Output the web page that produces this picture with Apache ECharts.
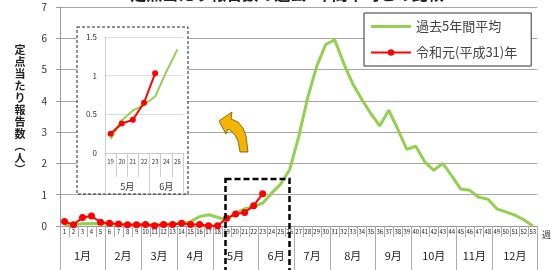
<!DOCTYPE html>
<html>
<head>
<meta charset="utf-8">
<script src="https://cdn.jsdelivr.net/npm/echarts@6/dist/echarts.min.js"></script>
<style>
  html, body { margin: 0; padding: 0; background: #fff; }
  #chart { width: 554px; height: 270px; }
</style>
</head>
<body>
<div id="chart"></div>
<script>
// 週ラベル
const weeks = ['1','2','3','4','5','6','7','8','9','10','11','12','13','14','15','16','17','18','19','20',
  '21','22','23','24','25','26','27','28','29','30','31','32','33','34','35','36','37','38','39','40',
  '41','42','43','44','45','46','47','48','49','50','51','52','53'];
// 月ラベルと各月の週数
const months = ['1月','2月','3月','4月','5月','6月','7月','8月','9月','10月','11月','12月'];
const monthWeeks = [5, 4, 4, 4, 5, 4, 4, 5, 4, 5, 4, 5];
// 過去5年間平均
const avg5 = [0.05, 0.05, 0.07, 0.08, 0.07, 0.06, 0.05, 0.05, 0.05, 0.05, 0.05, 0.06, 0.07, 0.08,
  0.14, 0.30, 0.36, 0.28, 0.18, 0.42, 0.55, 0.62, 0.73, 1.05, 1.34, 1.80, 2.85, 4.10, 5.10, 5.80,
  5.95, 5.20, 4.55, 4.05, 3.60, 3.20, 3.70, 3.10, 2.45, 2.55, 2.05, 1.78, 2.00, 1.60, 1.18, 1.14,
  0.92, 0.86, 0.55, 0.45, 0.35, 0.20, 0.00];
// 令和元(平成31)年
const r1 = [0.14, 0.04, 0.27, 0.32, 0.12, 0.09, 0.06, 0.04, 0.04, 0.05, 0.01, 0.05, 0.05, 0.09,
  0.05, 0.05, 0.01, 0.01, 0.25, 0.38, 0.43, 0.65, 1.03];
// 拡大図（19〜25週）
const insetWeeks = ['19','20','21','22','23','24','25'];
const insetMonths = ['5月','6月'];
const insetMonthWeeks = [4, 3];
const insetStart = 18;
const yTicks = [0, 1, 2, 3, 4, 5, 6, 7];

const FONT = '"Noto Sans CJK JP", "Noto Sans", sans-serif';
const GREEN = '#92d050';
const RED = '#ff0000';

// 月の行: 半週単位の点 (boundaryGap false)
function monthRow(names, counts) {
  let total = counts.reduce((a, b) => a + b, 0);
  let data = new Array(total * 2 + 1).fill('');
  let bounds = {};
  let s = 0;
  names.forEach((n, i) => {
    bounds[2 * s] = true;
    data[2 * s + counts[i]] = n;
    s += counts[i];
  });
  bounds[2 * s] = true;
  return { data, bounds };
}
const mainRow = monthRow(months, monthWeeks);
const insetRow = monthRow(insetMonths, insetMonthWeeks);

let myChart = echarts.init(document.getElementById('chart'));
let option = {
  animation: false,
  textStyle: { fontFamily: FONT },
  grid: [
    { left: 60, right: 11, top: 7, bottom: 44 },
    { left: 105, top: 37, width: 78, height: 116 },
  ],
  legend: {
    data: [
      { name: '過去5年間平均', icon: 'path://M0,0 L40,0 L40,3 L0,3 Z' },
      { name: '令和元(平成31)年' },
    ],
    orient: 'vertical',
    left: 364,
    top: 13,
    padding: [7, 14, 7, 6],
    itemGap: 13,
    itemWidth: 40,
    itemHeight: 8,
    backgroundColor: '#fff',
    borderColor: '#333',
    borderWidth: 1,
    textStyle: { fontSize: 13, color: '#444', fontFamily: FONT },
  },
  xAxis: [
    {
      type: 'category',
      gridIndex: 0,
      data: weeks,
      position: 'bottom',
      name: '週',
      nameLocation: 'end',
      nameGap: 3,
      nameTextStyle: { fontSize: 9, color: '#333', verticalAlign: 'top', padding: [4, 0, 0, 0] },
      axisLine: { lineStyle: { color: '#999' } },
      axisTick: { show: true, interval: 0, length: 11, lineStyle: { color: '#aaa' } },
      axisLabel: { interval: 0, fontSize: 6, color: '#222', margin: 3 },
      splitLine: { show: false },
    },
    {
      type: 'category',
      gridIndex: 0,
      data: mainRow.data,
      position: 'bottom',
      boundaryGap: false,
      axisLine: { show: false },
      axisTick: {
        show: true,
        length: 44,
        interval: (i) => !!mainRow.bounds[i],
        lineStyle: { color: '#aaa' },
      },
      axisLabel: { interval: 0, fontSize: 11, color: '#222', margin: 24 },
      splitLine: { show: false },
    },
    {
      type: 'category',
      gridIndex: 1,
      data: insetWeeks,
      z: 3,
      axisLine: { lineStyle: { color: '#ccc' } },
      axisTick: { show: true, interval: 0, length: 24, lineStyle: { color: '#ccc' } },
      axisLabel: { interval: 0, fontSize: 6, color: '#333', margin: 6 },
      splitLine: { show: false },
    },
    {
      type: 'category',
      gridIndex: 1,
      data: insetRow.data,
      position: 'bottom',
      boundaryGap: false,
      z: 3,
      axisLine: { show: false },
      axisTick: {
        show: true,
        length: 41,
        interval: (i) => !!insetRow.bounds[i],
        lineStyle: { color: '#ccc' },
      },
      axisLabel: { interval: 0, fontSize: 9, color: '#333', margin: 29 },
      splitLine: { show: false },
    },
  ],
  yAxis: [
    {
      type: 'value',
      gridIndex: 0,
      min: yTicks[0],
      max: yTicks[yTicks.length - 1],
      interval: 1,
      axisLine: { show: true, lineStyle: { color: '#999' } },
      axisTick: { show: true, length: 4, lineStyle: { color: '#999' } },
      axisLabel: { fontSize: 10, color: '#333', margin: 13 },
      splitLine: { lineStyle: { color: '#a6a6a6' } },
    },
    {
      type: 'value',
      gridIndex: 1,
      min: 0,
      max: 1.5,
      interval: 0.5,
      z: 3,
      axisLine: { show: true, lineStyle: { color: '#ccc' } },
      axisTick: { show: false },
      axisLabel: { fontSize: 8, color: '#333', margin: 8 },
      splitLine: { lineStyle: { color: '#ddd' } },
    },
  ],
  series: [
    {
      name: '過去5年間平均',
      type: 'line',
      xAxisIndex: 0,
      yAxisIndex: 0,
      data: avg5,
      symbol: 'none',
      lineStyle: { color: GREEN, width: 3 },
      itemStyle: { color: GREEN },
      z: 3,
    },
    {
      name: '令和元(平成31)年',
      type: 'line',
      xAxisIndex: 0,
      yAxisIndex: 0,
      data: r1,
      symbol: 'circle',
      symbolSize: 7,
      lineStyle: { color: RED, width: 2 },
      itemStyle: { color: RED },
      z: 4,
    },
    {
      name: '過去5年間平均',
      type: 'line',
      xAxisIndex: 2,
      yAxisIndex: 1,
      data: avg5.slice(insetStart, insetStart + insetWeeks.length),
      symbol: 'none',
      lineStyle: { color: GREEN, width: 2 },
      itemStyle: { color: GREEN },
      z: 5,
    },
    {
      name: '令和元(平成31)年',
      type: 'line',
      xAxisIndex: 2,
      yAxisIndex: 1,
      data: r1.slice(insetStart),
      symbol: 'circle',
      symbolSize: 6,
      lineStyle: { color: RED, width: 2 },
      itemStyle: { color: RED },
      z: 6,
    },
  ],
  graphic: [
    {
      type: 'text',
      x: 287,
      y: 1.5,
      style: {
        text: '定点当たり報告数の過去5年間平均との比較',
        font: 'bold 16px ' + FONT,
        fill: '#222',
        textAlign: 'center',
        textVerticalAlign: 'bottom',
      },
    },
    {
      type: 'text',
      x: 20,
      y: 110,
      style: {
        text: '定\n点\n当\nた\nり\n報\n告\n数\n︵\n人\n︶',
        font: 'bold 11px ' + FONT,
        lineHeight: 12,
        fill: '#222',
        textAlign: 'center',
        textVerticalAlign: 'middle',
      },
    },
    // 拡大図の枠
    {
      type: 'rect',
      z: 1,
      shape: { x: 77, y: 27, width: 111, height: 167 },
      style: { fill: '#fff', stroke: '#222', lineWidth: 1, lineDash: [3, 2] },
    },
    // 拡大範囲の枠
    {
      type: 'rect',
      z: 10,
      shape: { x: 225.5, y: 179, width: 64, height: 100 },
      style: { fill: 'none', stroke: '#000', lineWidth: 2.5, lineDash: [6, 3] },
    },
    // 矢印
    {
      type: 'polygon',
      z: 10,
      shape: {
        points: [[219, 121], [232, 112], [231, 119], [238, 122], [243, 128], [246, 136],
          [248, 152], [240, 152], [238, 141], [235, 135], [231, 131], [228, 129], [226, 134]],
      },
      style: { fill: '#f5b400', stroke: '#6b5200', lineWidth: 0.8 },
    },
  ],
};
myChart.setOption(option);
</script>
</body>
</html>
